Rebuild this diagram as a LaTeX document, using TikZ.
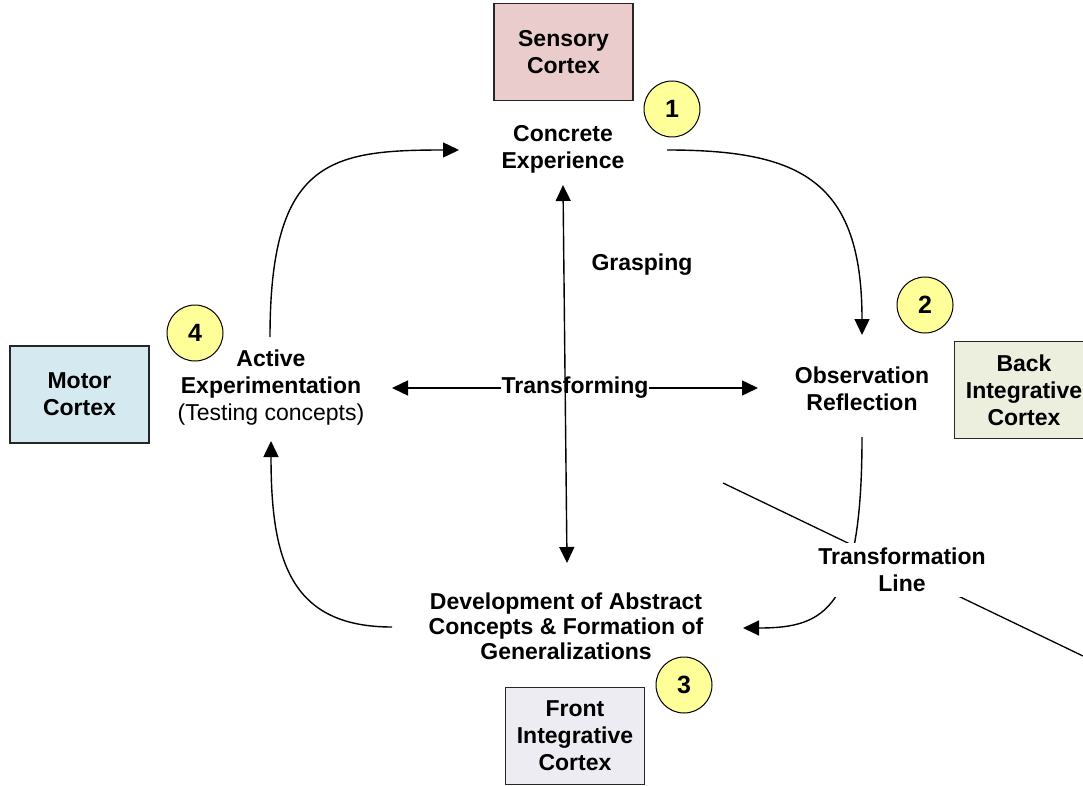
\documentclass[tikz,border=0pt]{standalone}
\usepackage{fontspec}
\setmainfont{Liberation Sans}
\usetikzlibrary{arrows.meta}

\definecolor{badgeyellow}{HTML}{FFFF99}
\definecolor{sensoryfill}{HTML}{EBCCCC}
\definecolor{motorfill}{HTML}{D4EAF0}
\definecolor{backfill}{HTML}{ECEEDE}
\definecolor{frontfill}{HTML}{EEECF3}

\begin{document}
\begin{tikzpicture}[x=1pt, y=-1pt,
  lbl/.style={font=\fontsize{23}{27}\selectfont\bfseries, align=center, inner sep=0pt},
  cortex/.style={draw=black!85, line width=1.3pt, minimum width=139pt, minimum height=97pt,
                 align=center, inner sep=0pt, font=\fontsize{23}{27}\selectfont\bfseries},
  badge/.style={circle, draw=black, line width=1pt, fill=badgeyellow, minimum size=56pt,
                inner sep=0pt, font=\fontsize{25}{28}\selectfont\bfseries},
  tip/.tip={Triangle[length=16pt, width=15pt]},
  flow/.style={line width=1.4pt, -tip},
  plain/.style={line width=1.4pt},
]
\useasboundingbox (0,0) rectangle (1083,786);
\clip (0,0) rectangle (1083,786);

% cortex boxes
\node[cortex, fill=sensoryfill] (sensory) at (563.5,52) {Sensory\\Cortex};
\node[cortex, fill=motorfill]   (motor)   at (79.5,394.5) {Motor\\Cortex};
\node[cortex, fill=backfill]    (back)    at (1024,390) {Back\\Integrative\\Cortex};
\node[cortex, fill=frontfill]   (front)   at (575,736) {Front\\Integrative\\Cortex};

% numbered stages
\node[badge] (b1) at (672,109) {1};
\node[badge] (b2) at (925,305) {2};
\node[badge] (b3) at (684,685) {3};
\node[badge] (b4) at (195,333) {4};

% stage labels
\node[lbl] (ce) at (563,149) {Concrete\\Experience};
\node[lbl] (or) at (862,389) {Observation\\Reflection};
\node[lbl] (ae) at (271,388) {Active\\Experimentation\\{\mdseries (Testing concepts)}};
\node[lbl, font=\fontsize{23}{25}\selectfont\bfseries] (dev) at (566,626)
  {Development of Abstract\\Concepts \& Formation of\\Generalizations};
\node[lbl] (grasp) at (642,265) {Grasping};
\node[lbl] (trf) at (575,388) {Transforming};

% connector end points
\coordinate (ceOut)  at (667,150);
\coordinate (orIn)   at (862,335);
\coordinate (orOut)  at (862,437);
\coordinate (devIn)  at (743,628);
\coordinate (devOut) at (392,627);
\coordinate (aeIn)   at (271,441);
\coordinate (aeOut)  at (270,337);
\coordinate (ceIn)   at (459,150);
\coordinate (vTop)   at (563,185);
\coordinate (vBot)   at (567,563);
\coordinate (tlA)    at (723,483);
\coordinate (tlB)    at (1083,656);

% learning cycle
\draw[flow] (ceOut) .. controls (800,150) and (862,180) .. (orIn);
\draw[flow] (orOut) .. controls (862,610) and (825,628) .. (devIn);
\draw[flow] (devOut) .. controls (290,627) and (271,560) .. (aeIn);
\draw[flow] (aeOut) .. controls (270,160) and (330,150) .. (ceIn);

% grasping and transforming axes
\draw[plain, tip-tip] (vTop) -- (vBot);
\draw[flow] (trf.west) -- (392,388);
\draw[flow] (trf.east) -- (758,388);

% transformation line with its label
\draw[line width=1.3pt] (tlA) -- (tlB);
\node[lbl, fill=white, inner xsep=3pt, inner ysep=5pt] (tline) at (902,570) {Transformation\\Line};
\end{tikzpicture}
\end{document}
